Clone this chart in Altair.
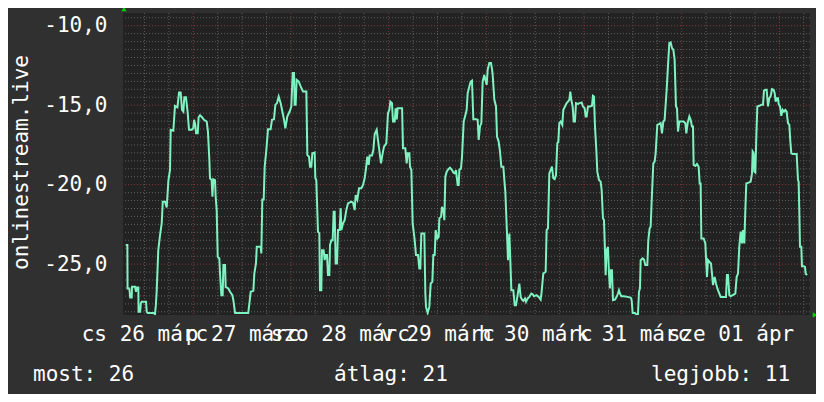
import altair as alt
import pandas as pd

# hours since 26 márc 00:00
hours = [
    7.39, 7.80, 7.85, 8.29, 8.50, 8.87, 8.95, 9.69, 9.93, 10.10, 10.50, 10.55, 10.95, 11.10, 11.30, 12.40,
    12.55, 12.80, 14.20, 14.60, 14.80, 15.00, 15.40, 15.83, 16.24, 16.50, 17.06, 17.47, 17.88, 18.28, 18.45,
    19.10, 19.50, 20.10, 20.50, 20.90, 21.23, 21.56, 21.80, 22.20, 22.60, 22.95, 23.60, 24.00, 24.20, 24.50,
    24.70, 25.10, 25.30, 25.65, 26.15, 26.64, 27.30, 27.60, 27.95, 28.10, 28.50, 28.70, 28.93, 29.34, 29.50,
    29.75, 30.00, 30.40, 30.57, 30.90, 31.22, 31.40, 31.80, 31.96, 32.60, 33.03, 33.60, 33.85, 34.26, 37.50,
    37.78, 38.10, 38.76, 39.00, 39.40, 39.60,
    39.90, 40.55, 40.72, 40.96, 41.30, 41.54, 41.95, 42.36, 43.00, 43.34, 43.83, 44.16, 44.57, 44.98, 45.47,
    45.80, 46.30, 46.62, 47.10, 47.68, 48.09, 48.42, 48.75, 48.90, 49.15, 49.40, 49.90, 50.38, 50.96, 51.78,
    52.02, 52.43, 52.68, 53.00, 53.25, 53.82, 53.99, 54.23, 54.64, 54.97, 55.13, 55.46, 55.62, 56.03, 56.28,
    56.52, 56.85, 57.10, 57.43, 57.59, 57.92, 58.25, 58.49, 58.74, 58.98, 59.31, 59.56, 59.97, 60.21, 60.38,
    60.78, 61.19, 61.60, 62.01, 62.83, 63.24, 63.65, 63.90, 64.31, 64.72, 65.29, 65.70, 66.11, 66.44, 66.76,
    67.09, 67.34, 67.91, 68.24, 68.57, 69.06, 69.38, 69.71, 70.12, 70.53, 70.86, 71.43, 71.84, 72.17, 72.42,
    72.82, 73.07, 73.48, 73.72,
    74.00, 74.20, 75.30, 75.53, 76.10, 76.43, 76.68, 77.09, 77.25, 77.58, 77.90, 78.40, 78.72, 79.22, 79.54,
    79.79, 80.03, 80.77, 81.02, 81.18, 81.59, 82.00, 82.33, 82.74, 82.98, 83.31, 83.56, 83.97, 84.29, 84.46,
    84.87, 85.11, 85.44, 85.69, 85.93, 86.26, 86.67, 87.08, 87.57, 87.90, 88.22, 88.55, 88.96, 89.21, 89.37,
    89.78, 90.03, 90.44, 90.85, 91.17, 91.42, 91.83, 92.16, 92.48, 92.81, 93.47, 93.88, 94.12, 94.45, 94.78,
    95.10, 95.51, 95.76, 96.09, 96.33, 96.74, 97.15, 97.40, 97.56, 97.97, 98.38, 98.63, 99.03, 99.36, 99.69,
    100.18, 100.43, 100.67, 101.08, 101.33, 101.66, 101.90, 102.15, 102.64, 102.97, 103.29, 103.62, 104.11,
    104.44, 104.77, 105.10, 105.50, 105.75, 106.16, 106.57, 107.06, 107.39,
    107.71, 108.37, 108.86, 109.35, 109.59, 110.00, 110.58, 110.82, 111.15, 111.48, 111.80, 112.13, 112.46,
    112.79, 113.12, 113.44, 113.69, 113.93, 114.26, 114.67, 114.92, 115.33, 115.74, 116.06, 116.39, 116.64,
    116.88, 117.21, 117.46, 117.78, 118.03, 118.52, 118.93, 119.42, 119.75, 120.16, 120.40, 120.65, 120.98,
    121.47, 121.96, 122.20, 122.45, 122.70, 123.03, 123.27, 123.68, 124.09, 124.34, 124.66, 124.91, 125.15,
    125.32, 125.56, 125.89, 126.14, 126.38, 126.63, 126.87, 127.12, 127.61, 128.02, 128.35, 128.59, 128.84,
    129.17, 129.82, 130.64, 131.46, 131.71, 131.95, 132.52, 132.77, 133.26, 133.51, 133.75, 133.92, 134.41,
    134.74, 135.06, 135.56, 135.80, 136.13, 136.38, 136.62, 137.03, 137.36, 137.60, 138.01, 138.50, 138.83,
    139.16, 139.49, 139.81, 140.31, 140.63, 140.96, 141.29, 141.62,
    141.95, 142.27, 142.60, 142.85, 143.09, 143.42, 144.49, 144.90, 145.14, 145.47, 145.88, 146.21, 146.53,
    146.78, 146.94, 147.35, 147.76, 148.17, 148.42, 148.66, 148.83, 149.40, 149.81, 149.97, 150.22, 150.46,
    150.79, 151.20, 151.45, 151.69, 152.10, 152.43, 152.76, 153.25, 153.58, 154.89, 155.13, 155.38, 155.71,
    156.03, 156.53, 157.18, 157.51, 157.84, 158.16, 158.49, 158.82, 159.06, 159.39, 159.64, 159.88, 160.46,
    160.95, 161.28, 161.44, 161.69, 161.85, 162.10, 162.34, 162.59, 163.08, 163.57, 163.98, 164.22, 164.55,
    164.88, 165.21, 165.53, 165.86, 166.19, 166.60, 166.85, 167.09, 167.42, 167.66, 167.83, 168.16, 168.48,
    168.81, 169.14, 169.47, 169.79, 170.12, 170.45, 170.70, 170.94, 171.27, 172.25, 172.58, 172.74, 172.90,
    173.07, 173.40, 173.56, 173.97, 174.30, 174.46, 174.79,
]

values = [
    -23.80, -23.80, -26.53, -26.53, -27.10, -27.10, -26.43, -26.43, -26.74, -26.47, -26.47, -28.00, -28.00,
    -27.48, -27.37, -27.37, -28.00, -28.07, -28.07, -28.15, -27.58, -26.74, -24.12, -23.17, -22.44, -21.07,
    -21.07, -21.43, -19.75, -19.08, -16.55, -16.60, -15.04, -15.13, -14.20, -14.20, -15.29, -15.40, -14.50,
    -14.50, -15.40, -16.55, -16.55, -16.45, -15.92, -16.24, -16.77, -16.77, -15.76, -15.63, -15.76, -15.92,
    -16.03, -16.66, -18.45, -19.60, -19.71, -20.76, -19.66, -19.71, -20.76, -21.60, -24.54, -24.64, -25.59,
    -26.95, -26.95, -25.06, -25.06, -26.43, -26.53, -26.74, -26.95, -27.27, -28.07, -28.07, -27.48, -26.74,
    -26.68, -25.59, -24.96, -23.91,
    -23.91, -23.91, -24.33, -20.93, -20.93, -18.87, -17.82, -16.51, -16.51, -15.92, -15.88, -14.98, -14.87,
    -14.45, -14.87, -15.29, -15.92, -16.45, -15.71, -15.40, -15.08, -12.98, -12.98, -14.98, -14.98, -13.40,
    -13.51, -13.82, -14.14, -14.14, -18.13, -18.24, -18.87, -18.87, -18.03, -17.98, -19.60, -19.71, -22.96,
    -23.07, -26.64, -26.64, -24.12, -24.12, -24.75, -24.43, -24.43, -25.69, -25.69, -23.80, -23.49, -23.49,
    -21.70, -21.70, -24.96, -24.96, -22.86, -22.86, -21.49, -22.86, -22.44, -22.23, -21.60, -21.18, -21.07,
    -21.13, -21.60, -20.65, -20.93, -20.23, -20.23, -20.02, -19.60, -18.97, -18.24, -18.76, -18.17, -18.17,
    -17.82, -16.81, -16.55, -17.19, -17.82, -18.66, -18.03, -17.61, -17.40, -15.50, -15.29, -14.77, -14.87,
    -16.03, -16.03, -15.19,
    -15.90, -15.19, -15.19, -17.71, -17.71, -18.66, -18.03, -18.03, -18.87, -19.08, -22.44, -23.49, -24.43,
    -24.43, -25.27, -25.27, -23.07, -23.07, -26.85, -27.69, -28.07, -27.69, -26.22, -26.11, -24.43, -24.43,
    -22.86, -23.38, -23.28, -22.12, -22.02, -21.39, -21.60, -22.23, -19.50, -19.18, -19.03, -18.93, -19.08,
    -19.24, -19.29, -19.08, -20.02, -20.02, -19.08, -18.97, -18.24, -16.03, -15.63, -15.29, -14.24, -13.82,
    -13.51, -13.45, -15.88, -15.88, -15.92, -17.19, -16.34, -16.13, -13.51, -13.09, -13.40, -13.72, -12.77,
    -12.35, -12.35, -12.73, -13.09, -14.66, -15.08, -16.98, -17.29, -17.92, -18.87, -18.87, -19.71, -20.44,
    -23.07, -24.75, -23.07, -24.75, -26.64, -26.64, -27.58, -27.58, -27.06, -26.22, -27.06, -27.23, -27.31,
    -27.16, -27.37, -27.16, -27.06, -26.85, -26.89,
    -27.02, -26.95, -27.06, -27.23, -26.74, -25.59, -25.48, -22.86, -22.75, -19.29, -19.08, -18.87, -19.60,
    -19.66, -19.39, -17.40, -17.29, -16.13, -16.03, -16.24, -15.29, -15.08, -14.87, -14.77, -14.66, -14.14,
    -14.66, -15.08, -16.03, -16.03, -14.87, -14.92, -14.87, -14.83, -15.08, -15.19, -15.71, -15.71, -15.08,
    -15.08, -15.04, -14.41, -14.45, -16.34, -17.82, -19.18, -19.71, -19.81, -20.34, -22.12, -22.23, -24.12,
    -25.69, -24.12, -23.91, -25.59, -26.53, -25.38, -25.38, -27.27, -27.23, -27.06, -26.85, -26.64, -26.85,
    -27.02, -27.02, -27.06, -27.10, -27.27, -28.07, -28.07, -28.15, -28.15, -26.74, -26.53, -24.75, -24.64,
    -24.71, -25.06, -25.06, -23.49, -22.75, -22.65, -21.07, -18.66, -18.55, -18.03, -16.24, -16.18, -16.13,
    -16.77, -16.03, -15.92, -14.03, -12.56, -11.09, -11.05, -11.41,
    -11.51, -12.14, -15.08, -15.19, -16.66, -16.03, -16.03, -16.13, -16.77, -16.13, -15.71, -15.92, -16.34,
    -16.34, -18.76, -18.82, -18.70, -18.87, -19.92, -19.92, -23.38, -23.38, -23.70, -24.54, -25.80, -24.75,
    -24.85, -24.96, -25.59, -26.32, -25.80, -26.22, -26.53, -26.85, -27.06, -27.06, -25.69, -25.69, -26.95,
    -27.02, -26.95, -26.85, -25.80, -25.59, -23.91, -22.96, -23.70, -22.86, -23.70, -21.60, -19.92, -19.87,
    -19.81, -19.29, -17.92, -18.03, -19.18, -19.24, -16.98, -15.08, -15.04, -14.98, -14.98, -14.08, -14.03,
    -14.03, -15.08, -14.56, -14.45, -13.99, -14.03, -14.24, -14.77, -14.56, -14.56, -14.92, -15.08, -15.67,
    -15.29, -15.40, -15.29, -15.40, -16.13, -16.24, -17.29, -18.03, -18.07, -18.07, -19.71, -19.81, -21.60,
    -23.91, -23.91, -25.13, -25.13, -25.17, -25.59, -25.69,
]

day_labels = ["cs 26 márc", "p 27 márc", "szo 28 márc", "v 29 márc", "h 30 márc", "k 31 márc", "sze 01 ápr"]
label_hours = [12, 36, 60, 84, 108, 132, 156]
y_ticks = [-25, -20, -15, -10]
y_title = "onlinestream.live"
footer_texts = ["most: 26", "átlag: 21", "legjobb: 11"]

X_DOM = [6.73, 175.53]
Y_DOM = [-28.2, -9.2]

FONT = "DejaVu Sans Mono"
FS = 21
TXT = "#ffffff"

series = pd.DataFrame({"h": hours, "v": values})

label_array = "[" + ",".join("'" + s + "'" for s in day_labels) + "]"
x_label_expr = label_array + "[round((datum.value - 12) / 24)]"
y_label_expr = "(datum.value < 0 ? '-' : '') + replace(format(abs(datum.value), '.1f'), '.', ',')"

xs = alt.Scale(domain=X_DOM, nice=False, zero=False)
ys = alt.Scale(domain=Y_DOM, nice=False, zero=False)

x_enc = alt.X("h:Q", scale=xs, axis=alt.Axis(
    values=label_hours, labelExpr=x_label_expr, grid=False, ticks=False, domain=False,
    labelOverlap=False, labelFlush=False, labelFont=FONT, labelFontSize=FS, labelColor=TXT,
    labelPadding=8, labelBaseline="top", title=None))
y_enc = alt.Y("v:Q", scale=ys, axis=alt.Axis(
    values=y_ticks, labelExpr=y_label_expr, grid=False, ticks=False, domain=False,
    labelFont=FONT, labelFontSize=FS, labelColor=TXT, labelPadding=16, labelBaseline="middle",
    title=y_title, titleFont=FONT, titleFontSize=FS, titleFontWeight="normal", titleColor=TXT,
    titleAngle=270, titleX=-102, titleY=149, titleAlign="center", titleBaseline="middle"))

GRAY = "#5e5e5e"
RED = "#843a3a"
DASH = [1, 2]

xgrid = alt.Chart(alt.sequence(0, 181, 6, as_="h")).transform_filter(
    f"datum.h > {X_DOM[0]} && datum.h < {X_DOM[1]}")
ygrid = alt.Chart(alt.sequence(-28, -9, 0.5, as_="v"))

x_minor = xgrid.transform_filter("datum.h % 24 != 0").mark_rule(
    color=GRAY, strokeWidth=1, strokeDash=DASH).encode(x=x_enc)
x_major = xgrid.transform_filter("datum.h % 24 == 0").mark_rule(
    color=RED, strokeWidth=1, strokeDash=DASH).encode(x=x_enc)
y_minor = ygrid.transform_filter("datum.v % 5 != 0").mark_rule(
    color=GRAY, strokeWidth=1, strokeDash=DASH).encode(y=y_enc)
y_major = ygrid.transform_filter("datum.v % 5 == 0").mark_rule(
    color=RED, strokeWidth=1, strokeDash=DASH).encode(y=y_enc)

line = alt.Chart(series).mark_line(color="#7ef2c0", strokeWidth=2, clip=True).encode(x=x_enc, y=y_enc)

arrow_up = alt.Chart(pd.DataFrame({"h": [X_DOM[0]], "v": [Y_DOM[1]]})).mark_point(
    shape="triangle-up", filled=True, size=28, color="#00d000", opacity=1, yOffset=-4, xOffset=1
).encode(x=x_enc, y=y_enc)
arrow_right = alt.Chart(pd.DataFrame({"h": [X_DOM[1]], "v": [Y_DOM[0]]})).mark_point(
    shape="triangle-right", filled=True, size=28, color="#00d000", opacity=1, xOffset=5
).encode(x=x_enc, y=y_enc)

foot = pd.DataFrame({"t": footer_texts, "px": [-90, 211, 528]})
footer = alt.Chart(foot).mark_text(
    font=FONT, fontSize=FS, color=TXT, align="left", baseline="alphabetic"
).encode(x=alt.X("px:Q", scale=None), y=alt.value(368), text="t:N")

chart = alt.layer(x_minor, y_minor, x_major, y_major, line, arrow_up, arrow_right, footer).properties(
    width=687, height=302, background="#303030",
    padding={"left": 115, "top": 5, "right": 6, "bottom": 79},
    autosize=alt.AutoSizeParams(type="none"),
).configure_view(fill="#222222", stroke=None)

chart.save("out.html", embed_options={"renderer": "svg", "actions": False})
